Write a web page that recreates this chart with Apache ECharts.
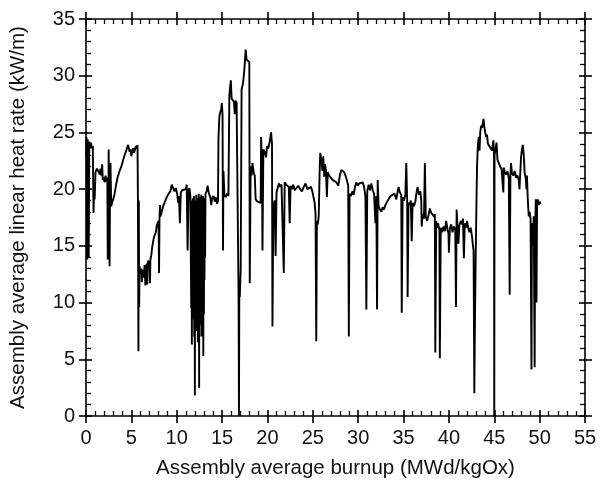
<!DOCTYPE html>
<html>
<head>
<meta charset="utf-8">
<script src="https://cdn.jsdelivr.net/npm/echarts@6/dist/echarts.min.js"></script>
<style>
  html, body { margin: 0; padding: 0; background: #fff; }
  #chart { width: 608px; height: 484px; }
</style>
</head>
<body>
<div id="chart"></div>
<script>
// burnup (MWd/kgOx) and assembly average linear heat rate (kW/m)
var burnup = [
  0.0, 0.05, 0.12, 0.18, 0.25, 0.3, 0.36, 0.45, 0.55, 0.65, 0.75, 0.83, 0.9, 0.95,
  1.05, 1.2, 1.35, 1.5, 1.6, 1.7, 1.78, 1.85, 1.95, 2.05, 2.15, 2.25, 2.35, 2.4, 2.45,
  2.5, 2.55, 2.6, 2.65, 2.7, 2.78, 2.9, 3.0, 3.15, 3.3, 3.5, 3.7, 3.9, 4.1, 4.25, 4.4,
  4.55, 4.65, 4.8, 4.9, 5.0, 5.1, 5.2, 5.3, 5.4, 5.5, 5.6, 5.68, 5.72, 5.78, 5.82, 5.86,
  5.9, 6.0, 6.1, 6.15, 6.2, 6.3, 6.4, 6.45, 6.55, 6.6, 6.7, 6.75, 6.8, 6.9, 7.0, 7.05,
  7.1, 7.2, 7.3, 7.4, 7.5, 7.6, 7.7, 7.8, 7.9, 8.0, 8.05, 8.1, 8.15, 8.2, 8.35, 8.5,
  8.7, 8.9, 9.1, 9.3, 9.45, 9.6, 9.75, 9.9, 10.05, 10.15, 10.25, 10.35, 10.45, 10.6,
  10.8, 11.0, 11.1, 11.2, 11.3, 11.4, 11.5,
  11.55, 11.6, 11.63, 11.67, 11.7, 11.74, 11.77, 11.8, 11.83, 11.87, 11.9, 11.93, 11.96,
  12.0, 12.03, 12.06, 12.1, 12.13, 12.16, 12.2, 12.23, 12.26, 12.3, 12.33, 12.36, 12.4,
  12.43, 12.47, 12.5, 12.53, 12.56, 12.6, 12.63, 12.67, 12.7, 12.73, 12.77, 12.8, 12.83,
  12.87, 12.9, 12.93, 12.96, 13.0, 13.03, 13.06, 13.1, 13.13, 13.17,
  13.3, 13.4, 13.55, 13.7, 13.8, 13.9, 14.05, 14.2, 14.3, 14.45, 14.55, 14.6, 14.7, 14.8,
  14.9, 14.97, 15.05, 15.1, 15.15, 15.25, 15.4, 15.55, 15.7, 15.8, 15.96, 16.05, 16.15,
  16.3, 16.4, 16.5, 16.6, 16.7, 16.78, 16.82, 16.86, 16.9, 16.95, 17.05, 17.15, 17.3,
  17.45, 17.6, 17.7, 17.85, 18.0, 18.05, 18.15, 18.25, 18.35, 18.5, 18.6, 18.7, 18.9,
  19.1, 19.25, 19.3, 19.4, 19.45, 19.55, 19.7, 19.85, 19.95, 20.1, 20.25, 20.4, 20.5,
  20.55, 20.65, 20.8, 20.9, 21.0, 21.1, 21.25, 21.4, 21.55, 21.7, 21.8, 21.9, 22.05,
  22.2, 22.35, 22.45, 22.55, 22.7, 22.85, 23.0, 23.2, 23.4, 23.6, 23.8, 24.0, 24.2,
  24.4, 24.6, 24.8, 24.95, 25.1, 25.2, 25.3, 25.38, 25.45, 25.55, 25.65, 25.75, 25.82,
  25.95, 26.05, 26.15, 26.25, 26.35, 26.45, 26.55, 26.65, 26.8, 27.0, 27.2, 27.4, 27.6,
  27.8, 28.0, 28.15, 28.3, 28.45, 28.6, 28.75, 28.9, 28.97, 29.05, 29.2, 29.35, 29.5,
  29.65, 29.8, 29.95, 30.1, 30.3, 30.5, 30.65, 30.8, 30.9, 31.0, 31.15, 31.3, 31.45,
  31.6, 31.75, 31.9, 32.0, 32.08, 32.15, 32.25, 32.4, 32.55, 32.7, 32.85, 33.0, 33.2,
  33.4, 33.6, 33.8, 34.0, 34.2, 34.35, 34.45, 34.6, 34.75, 34.8, 34.9, 35.05, 35.2,
  35.3, 35.4, 35.45, 35.55, 35.7, 35.8, 35.9, 36.0, 36.15, 36.3, 36.45, 36.55, 36.7,
  36.85, 36.95, 37.0, 37.1, 37.25, 37.35, 37.45, 37.6, 37.75, 37.9, 38.05, 38.2, 38.35,
  38.45, 38.5, 38.6, 38.7, 38.8, 38.95, 39.0, 39.1, 39.25, 39.4, 39.55, 39.7, 39.85,
  39.95, 40.0, 40.1, 40.25, 40.4, 40.55, 40.7, 40.78, 40.85, 40.95, 41.05, 41.15, 41.3,
  41.45, 41.55, 41.65, 41.75, 41.9, 42.0, 42.1, 42.25, 42.4, 42.55, 42.65, 42.72, 42.8,
  42.85, 42.95, 43.05, 43.1, 43.2, 43.3, 43.38, 43.45, 43.55, 43.65, 43.75, 43.82, 43.9,
  44.0, 44.1, 44.2, 44.3, 44.45, 44.6, 44.75, 44.9, 44.97, 45.0, 45.03, 45.15, 45.25,
  45.35, 45.5, 45.65, 45.8, 45.95, 46.0, 46.05, 46.15, 46.3, 46.45, 46.6, 46.7, 46.78,
  46.85, 46.95, 47.1, 47.25, 47.4, 47.55, 47.7, 47.78, 47.85, 47.95, 48.05, 48.15, 48.25,
  48.35, 48.45, 48.55, 48.6, 48.7, 48.8, 48.9, 49.0, 49.1, 49.15, 49.25, 49.35, 49.45,
  49.5, 49.58, 49.65, 49.72, 49.8, 49.9, 50.0, 50.1
];
var heatRate = [
  22.8, 24.6, 13.8, 24.4, 23.2, 14.0, 24.2, 23.6, 24.1, 23.6, 23.8, 17.9, 20.0, 19.1,
  21.5, 21.8, 21.6, 21.3, 21.8, 21.2, 22.2, 20.8, 21.0, 20.6, 21.2, 20.7, 21.0, 13.8, 16.5,
  23.5, 18.0, 13.2, 20.0, 22.3, 18.5, 18.9, 19.1, 19.6, 20.3, 21.1, 21.6, 22.0, 22.6, 23.0, 23.3,
  23.7, 23.9, 23.3, 23.5, 22.9, 23.4, 23.6, 23.2, 23.5, 23.8, 23.6, 23.9, 19.3, 5.7, 19.0, 9.6,
  13.2, 12.5, 13.0, 11.8, 12.6, 12.9, 12.2, 13.3, 11.5, 13.1, 13.4, 11.6, 13.5, 13.7, 13.3, 11.7,
  13.8, 14.2, 14.9, 15.4, 15.8, 16.0, 16.2, 16.8, 17.0, 17.2, 12.6, 17.4, 18.6, 17.6, 18.0, 18.5,
  18.9, 19.3, 19.6, 19.8, 20.4, 20.1, 19.8, 20.1, 19.6, 18.8, 19.4, 17.0, 19.7, 19.9,
  19.8, 20.0, 20.4, 14.6, 19.9, 20.1, 19.4,
  19.3, 9.5, 19.0, 6.3, 18.5, 12.0, 19.2, 8.5, 18.8, 10.0, 19.4, 7.0, 18.6,
  1.8, 19.0, 11.0, 18.3, 7.5, 19.5, 9.0, 18.9, 13.0, 19.2, 6.5, 18.4, 10.5,
  19.6, 2.5, 18.8, 8.0, 19.3, 12.5, 18.5, 9.5, 19.5, 7.0, 19.0, 11.0, 18.7,
  8.5, 19.4, 5.3, 18.9, 9.0, 19.2, 12.0, 19.0, 14.0, 19.6,
  19.8, 20.3, 19.6, 19.3, 18.6, 19.2, 19.4, 18.9, 19.3, 18.7, 19.0, 24.5, 26.4, 26.8,
  27.0, 27.6, 26.5, 14.6, 21.6, 19.5, 19.3, 19.6, 19.4, 28.3, 29.6, 28.0, 27.9,
  27.7, 26.6, 27.8, 27.6, 27.5, 13.5, 10.0, 0, 12.0, 10.5, 13.0, 28.8, 29.3,
  30.5, 32.3, 31.4, 31.5, 31.2, 11.7, 22.0, 21.2, 22.3, 21.4, 21.2, 19.1, 18.9,
  19.0, 18.8, 24.6, 22.0, 14.6, 23.5, 23.3, 22.8, 23.8, 23.6, 24.2, 25.0, 24.0,
  7.9, 18.5, 19.0, 14.1, 19.7, 19.8, 20.5, 20.2, 20.4, 20.3, 12.6, 20.6, 20.4,
  20.5, 20.2, 17.0, 20.3, 20.0, 20.4, 19.9, 20.1, 20.3, 20.0, 19.8, 20.2, 20.5,
  20.0, 19.9, 20.2, 19.8, 19.2, 18.8, 17.8, 6.6, 17.2, 16.9, 17.6, 21.5, 23.2,
  22.5, 21.6, 22.9, 21.1, 22.2, 21.6, 19.3, 21.5, 21.2, 21.0, 20.8, 20.9, 20.6,
  20.3, 21.3, 21.7, 21.8, 21.5, 21.2, 20.8, 20.3, 7.0, 19.6, 19.4, 19.8, 19.5,
  20.2, 20.6, 20.3, 20.5, 20.4, 20.6, 20.2, 19.3, 9.4, 19.8, 20.4, 19.9, 20.5,
  19.9, 19.6, 17.0, 19.4, 9.4, 20.8, 18.5, 18.2, 18.0, 18.4, 18.2, 18.6, 18.9,
  19.2, 19.4, 19.3, 19.6, 19.1, 19.8, 20.2, 19.7, 19.5, 9.1, 19.3, 19.0, 19.5,
  22.3, 19.0, 10.5, 18.8, 18.6, 19.0, 15.4, 18.8, 18.5, 18.9, 19.8, 20.2, 19.5,
  19.8, 19.0, 16.7, 17.8, 17.4, 22.3, 17.6, 17.2, 17.7, 18.3, 17.9, 18.0, 17.6,
  17.8, 5.6, 17.2, 16.6, 17.0, 16.4, 5.1, 16.6, 16.2, 16.7, 16.3, 17.2, 16.4,
  16.1, 14.4, 16.5, 16.9, 16.2, 16.7, 16.4, 9.6, 18.2, 16.6, 15.2, 16.8, 17.2,
  16.9, 17.4, 13.9, 17.0, 16.6, 17.2, 16.7, 16.2, 16.6, 15.8, 15.0, 14.6, 2.0,
  6.7, 14.0, 19.5, 22.0, 24.0, 24.6, 23.4, 25.0, 25.6, 25.4, 25.9, 26.2, 25.5,
  25.0, 24.6, 24.8, 24.0, 23.8, 23.6, 23.4, 24.3, 23.2, 0, 23.0, 22.9, 24.1,
  22.6, 22.3, 22.0, 21.8, 21.7, 19.7, 21.9, 21.5, 21.3, 21.6, 21.0, 10.7, 21.2,
  22.3, 21.4, 21.2, 21.6, 21.0, 21.2, 20.8, 20.0, 21.2, 22.8, 23.5, 23.9, 23.0,
  21.4, 21.1, 20.0, 21.2, 19.0, 17.6, 18.0, 17.4, 4.1, 17.0, 15.0, 17.6, 4.3,
  16.0, 19.1, 10.0, 18.8, 19.1, 18.6, 18.9, 18.7
];
var xTicks = [0, 5, 10, 15, 20, 25, 30, 35, 40, 45, 50, 55];
var yTicks = [0, 5, 10, 15, 20, 25, 30, 35];

var points = burnup.map(function (b, i) { return [b, heatRate[i]]; });

var ink = '#000';
var textInk = '#111';
var font = '"Liberation Sans", Arial, sans-serif';

function xAx(pos, inside, withLabel) {
  return {
    type: 'value', position: pos,
    min: xTicks[0], max: xTicks[xTicks.length - 1], interval: 5,
    axisLine: { show: inside, onZero: false, lineStyle: { color: ink, width: 1.6 } },
    axisTick: { show: true, inside: inside, length: inside ? 6 : 7, lineStyle: { color: ink, width: 1.6 } },
    minorTick: { show: inside, splitNumber: 5, length: 5, lineStyle: { color: ink, width: 1.3 } },
    splitLine: { show: false },
    axisLabel: { show: withLabel, fontSize: 20, color: textInk, fontFamily: font, margin: 12 },
    name: withLabel ? 'Assembly average burnup (MWd/kgOx)' : '',
    nameLocation: 'middle', nameGap: 42,
    nameTextStyle: { fontSize: 20.5, color: textInk, fontFamily: font }
  };
}
function yAx(pos, inside, withLabel) {
  return {
    type: 'value', position: pos,
    min: yTicks[0], max: yTicks[yTicks.length - 1], interval: 5,
    axisLine: { show: inside, onZero: false, lineStyle: { color: ink, width: 1.6 } },
    axisTick: { show: true, inside: inside, length: inside ? 6 : 7, lineStyle: { color: ink, width: 1.6 } },
    minorTick: { show: inside, splitNumber: 5, length: 5, lineStyle: { color: ink, width: 1.3 } },
    splitLine: { show: false },
    axisLabel: { show: withLabel, fontSize: 20, color: textInk, fontFamily: font, margin: 11 },
    name: withLabel ? 'Assembly average linear heat rate (kW/m)' : '',
    nameLocation: 'middle', nameGap: 57,
    nameTextStyle: { fontSize: 20.5, color: textInk, fontFamily: font }
  };
}

var chart = echarts.init(document.getElementById('chart'), null, { renderer: 'canvas' });
chart.setOption({
  animation: false,
  backgroundColor: '#fff',
  grid: { left: 85.5, right: 23, top: 19, bottom: 68, containLabel: false },
  xAxis: [
    xAx('bottom', true, true),
    xAx('bottom', false, false),
    xAx('top', true, false),
    xAx('top', false, false)
  ],
  yAxis: [
    yAx('left', true, true),
    yAx('left', false, false),
    yAx('right', true, false),
    yAx('right', false, false)
  ],
  series: [{
    type: 'line',
    data: points,
    xAxisIndex: 0,
    yAxisIndex: 0,
    showSymbol: false,
    symbol: 'none',
    lineStyle: { color: ink, width: 1.9 },
    clip: true
  }]
});
</script>
</body>
</html>
